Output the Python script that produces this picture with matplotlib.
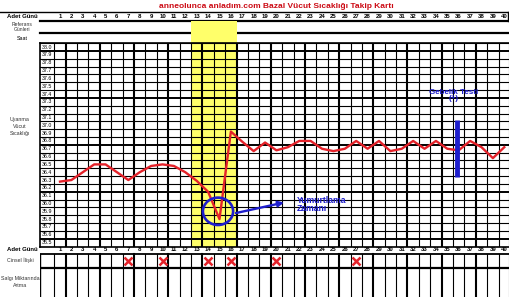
import matplotlib
matplotlib.use('Agg')
import matplotlib.pyplot as plt
import matplotlib.transforms as mtransforms
from matplotlib.patches import Rectangle, Ellipse

plt.rcParams['font.family'] = ['Liberation Sans', 'DejaVu Sans']

days = list(range(1, 41))
temps = [36.28, 36.30, 36.40, 36.50, 36.50, 36.40, 36.30, 36.40, 36.48, 36.50,
         36.48, 36.40, 36.29, 36.15, 35.80, 36.92, 36.79, 36.67, 36.78, 36.68,
         36.72, 36.80, 36.80, 36.70, 36.67, 36.70, 36.80, 36.70, 36.80, 36.67,
         36.70, 36.80, 36.70, 36.80, 36.70, 36.68, 36.80, 36.72, 36.58, 36.72]
temp_labels = ['38.0', '37.9', '37.8', '37.7', '37.6', '37.5', '37.4', '37.3', '37.2',
               '37.1', '37.0', '36.9', '36.8', '36.7', '36.6', '36.5', '36.4', '36.3',
               '36.2', '36.1', '36.0', '35.9', '35.8', '35.7', '35.6', '35.5']
intercourse_days = [7, 10, 14, 16, 20, 27]
fertile_days = [13, 14, 15, 16]
test_day = 35.85

title = 'anneolunca anladım.com Bazal Vücut Sıcaklığı Takip Kartı'
red = '#e4222a'
blue = '#1d1dcc'
yellow = '#ffff6a'

# layout in pixels
W, H = 510, 297
LX = 40.0      # left edge of temperature label column
GX0 = 54.3     # left edge of day 1
GY0, GY1 = 43.2, 246.5


def frect(x0, y0, x1, y1):
    return [x0 / W, 1 - y1 / H, (x1 - x0) / W, (y1 - y0) / H]


fig = plt.figure(figsize=(W / 100, H / 100), dpi=100)

ax_bg = fig.add_axes([0, 0, 1, 1])
ax_bg.set_xlim(0, W)
ax_bg.set_ylim(H, 0)
ax_bg.axis('off')

ax = fig.add_axes(frect(LX, GY0, W, GY1), zorder=2)
cw = (W - GX0) / 40
xl = 0.5 - (GX0 - LX) / cw
ax.set_xlim(xl, 40.5)
ax.set_ylim(35.45, 38.05)
ax.set_facecolor('none')
ax.set_xticks([])
ax.set_yticks([])
for s in ax.spines.values():
    s.set_linewidth(1.2)

blend = mtransforms.blended_transform_factory(ax.transData, ax_bg.transData)

# fertile window highlight
ax_bg.add_patch(Rectangle((min(fertile_days) - 0.5, 20.7), len(fertile_days), GY1 - 20.7,
                          transform=blend, color=yellow, lw=0, zorder=3))

# grid
for k in range(41):
    ax.axvline(0.5 + k, color='black', lw=1.5 if k % 3 == 1 else 0.8, zorder=1)
for k in range(27):
    ax.axhline(35.45 + 0.1 * k, color='black', lw=1.4 if k % 6 == 1 else 0.8, zorder=1)

lab_x = (xl + 0.5) / 2
for i, lab in enumerate(temp_labels):
    ax.text(lab_x, float(lab), lab, fontsize=3.8, ha='center', va='center')

# temperature curve
ax.plot(days, temps, color=red, lw=1.7, zorder=4, solid_joinstyle='round')

# ovulation mark
ax.add_patch(Ellipse((14.87, 35.90), 2.65, 0.35, fill=False, edgecolor=blue, lw=1.9, zorder=5))
ax.annotate('', xy=(20.9, 36.02), xytext=(16.2, 35.87),
            arrowprops=dict(arrowstyle='-|>', color=blue, lw=1.7, mutation_scale=8), zorder=5)
ax.text(21.8, 36.1, 'Yumurtlama\nZamanı', color=blue, fontsize=6.2, fontweight='bold',
        ha='left', va='top', linespacing=0.9, zorder=5)

# pregnancy test
ax.text(35.56, 37.47, 'Gebelik Testi\n(+)', color=blue, fontsize=5.8, fontweight='bold',
        ha='center', va='top', linespacing=0.95, zorder=5)
ax.plot([test_day, test_day], [36.34, 37.07], color=blue, lw=3.5, solid_capstyle='butt', zorder=5)

# header
ax_bg.text(276, 6, title, color='#cc0a14', fontsize=6, fontweight='bold', ha='center', va='center')
ax_bg.plot([0, W - 1.5], [11.8, 11.8], color='black', lw=1.0, zorder=1)
ax_bg.plot([LX, W], [20.7, 20.7], color='black', lw=1.6, zorder=1)
ax_bg.plot([W - 1.5, W - 1.5], [11.8, 20.7], color='black', lw=1.0, zorder=1)
ax_bg.plot([LX, W], [33.3, 33.3], color='black', lw=1.6, zorder=1)
ax_bg.text(22, 16, 'Adet Günü', fontsize=4.3, fontweight='bold', ha='center', va='center')
ax_bg.text(22, 26.8, 'Referans\nGünleri', fontsize=3.6, ha='center', va='center',
           linespacing=0.95, color='#333333')
ax_bg.text(22, 38.5, 'Saat', fontsize=3.8, ha='center', va='center')
for d in days:
    ax_bg.text(d, 16, str(d), transform=blend, fontsize=4.3, fontweight='bold',
               ha='center', va='center')

ax_bg.text(20, 126, 'Uyanma\nVücut\nSıcaklığı', fontsize=3.8, ha='center', va='center',
           linespacing=1.5, color='#333333')

# bottom table
ax_bot = fig.add_axes(frect(LX, GY1, W, H), zorder=2)
ax_bot.set_xlim(xl, 40.5)
ax_bot.set_ylim(H, GY1)
ax_bot.set_facecolor('none')
ax_bot.axis('off')
ax_bot.plot([xl, 40.5], [253.5, 253.5], color='black', lw=1.3)
ax_bot.plot([xl, 40.5], [267.7, 267.7], color='black', lw=1.6)
for k in range(41):
    ax_bot.plot([0.5 + k, 0.5 + k], [253.5, H], color='black',
                lw=1.5 if k % 3 == 1 else 0.8)
ax_bot.plot([xl, xl], [253.5, H], color='black', lw=1.0)
for d in days:
    ax_bot.text(d, 249.8, str(d), fontsize=4.3, fontweight='bold', ha='center', va='center')
ax_bot.plot(intercourse_days, [260.5] * len(intercourse_days), linestyle='none',
            marker='x', markersize=5.5, mew=1.8, color=red)

ax_bg.text(22, 249.8, 'Adet Günü', fontsize=4.3, fontweight='bold', ha='center', va='center')
ax_bg.text(20, 260.5, 'Cinsel İlişki', fontsize=3.8, ha='center', va='center', color='#333333')
ax_bg.text(20, 282, 'Salgı Miktarında\nArtma', fontsize=3.8, ha='center', va='center',
           linespacing=1.4, color='#333333')

fig.savefig('out.png', dpi=100)
